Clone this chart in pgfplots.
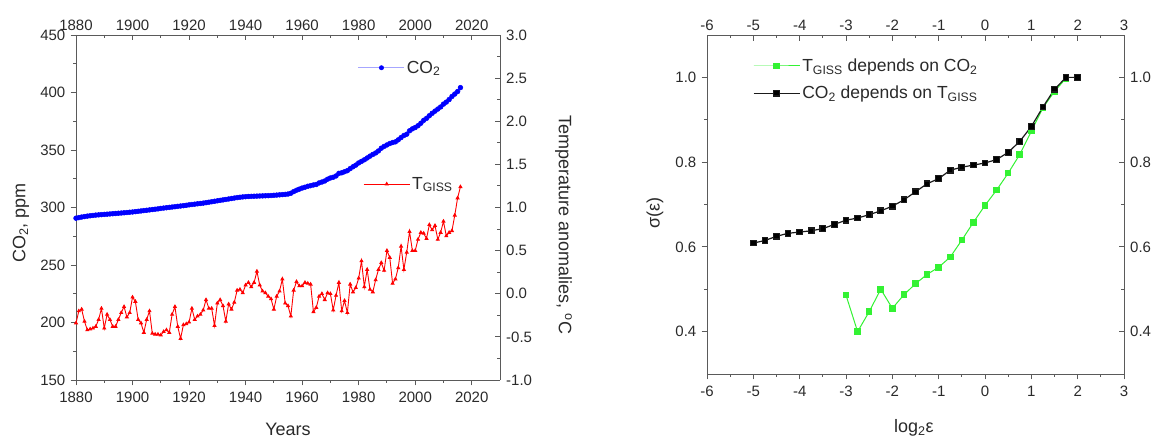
\documentclass[border=0pt]{standalone}
\usepackage{fontspec}
\setmainfont{Liberation Sans}
\usepackage{pgfplots}
\usepackage{pgfplotstable}
\pgfplotsset{compat=1.18}
\definecolor{fr}{HTML}{5A5A5A}
\definecolor{tx}{HTML}{2A2A2A}
\definecolor{cgreen}{HTML}{33F233}
\definecolor{cblack}{HTML}{1A1A1A}
\newcommand{\fTick}{\fontsize{15}{17}\selectfont}
\newcommand{\fLab}{\fontsize{18}{20}\selectfont}
\newcommand{\fLeg}{\fontsize{17.5}{19}\selectfont}

% year, CO2 (ppm), T_GISS anomaly (deg C)
\pgfplotstableread{
year co2 temp
1880 290.7 -0.34
1881 291.2 -0.20
1882 291.7 -0.18
1883 292.1 -0.32
1884 292.5 -0.42
1885 292.8 -0.41
1886 293.1 -0.40
1887 293.4 -0.38
1888 293.6 -0.30
1889 293.8 -0.17
1890 294.0 -0.40
1891 294.2 -0.24
1892 294.4 -0.30
1893 294.6 -0.38
1894 294.8 -0.38
1895 295.0 -0.30
1896 295.2 -0.22
1897 295.4 -0.15
1898 295.6 -0.27
1899 295.9 -0.22
1900 296.1 -0.04
1901 296.4 -0.09
1902 296.7 -0.30
1903 297.0 -0.34
1904 297.3 -0.45
1905 297.6 -0.30
1906 297.9 -0.20
1907 298.2 -0.46
1908 298.5 -0.47
1909 298.8 -0.47
1910 299.2 -0.48
1911 299.5 -0.44
1912 299.8 -0.42
1913 300.1 -0.45
1914 300.4 -0.24
1915 300.7 -0.15
1916 301.0 -0.38
1917 301.3 -0.52
1918 301.6 -0.36
1919 301.9 -0.35
1920 302.3 -0.33
1921 302.6 -0.17
1922 302.9 -0.30
1923 303.2 -0.26
1924 303.5 -0.24
1925 303.8 -0.19
1926 304.2 -0.07
1927 304.6 -0.17
1928 305.0 -0.17
1929 305.4 -0.37
1930 305.8 -0.11
1931 306.2 -0.07
1932 306.6 -0.14
1933 307.0 -0.32
1934 307.4 -0.12
1935 307.8 -0.18
1936 308.2 -0.10
1937 308.6 0.04
1938 308.9 0.05
1939 309.2 0.01
1940 309.4 0.10
1941 309.6 0.13
1942 309.7 0.08
1943 309.8 0.13
1944 309.9 0.26
1945 310.0 0.10
1946 310.1 0.03
1947 310.2 0.01
1948 310.3 -0.03
1949 310.4 -0.06
1950 310.6 -0.18
1951 310.8 -0.03
1952 311.0 0.03
1953 311.2 0.17
1954 311.4 -0.11
1955 311.7 -0.14
1956 312.4 -0.26
1957 313.8 0.04
1958 315.0 0.14
1959 315.97 0.09
1960 316.91 0.09
1961 317.64 0.13
1962 318.45 0.12
1963 318.99 0.11
1964 319.62 -0.21
1965 320.04 -0.16
1966 321.38 -0.03
1967 322.16 0.00
1968 323.04 -0.07
1969 324.62 0.01
1970 325.68 0.00
1971 326.32 -0.19
1972 327.45 -0.02
1973 329.68 0.13
1974 330.18 -0.20
1975 331.11 -0.08
1976 332.04 -0.22
1977 333.83 0.11
1978 335.40 0.02
1979 336.84 0.07
1980 338.75 0.18
1981 340.11 0.38
1982 341.45 0.08
1983 343.05 0.28
1984 344.65 0.05
1985 346.12 0.02
1986 347.42 0.16
1987 349.19 0.28
1988 351.57 0.36
1989 353.12 0.27
1990 354.39 0.50
1991 355.61 0.42
1992 356.45 0.12
1993 357.10 0.17
1994 358.83 0.30
1995 360.82 0.55
1996 362.61 0.28
1997 363.73 0.48
1998 366.70 0.72
1999 368.38 0.50
2000 369.55 0.50
2001 371.14 0.63
2002 373.28 0.71
2003 375.80 0.70
2004 377.52 0.64
2005 379.80 0.80
2006 381.90 0.74
2007 383.79 0.79
2008 385.60 0.63
2009 387.43 0.71
2010 389.90 0.84
2011 391.65 0.67
2012 393.85 0.71
2013 396.52 0.73
2014 398.65 0.91
2015 400.83 1.11
2016 404.24 1.24
}\clim

% log2(eps), sigma: CO2 depends on T_GISS
\pgfplotstableread{
le sig
-5.00 0.609
-4.75 0.615
-4.50 0.625
-4.25 0.632
-4.00 0.635
-3.75 0.638
-3.50 0.643
-3.25 0.653
-3.00 0.663
-2.75 0.668
-2.50 0.676
-2.25 0.685
-2.00 0.696
-1.75 0.711
-1.50 0.730
-1.25 0.749
-1.00 0.761
-0.75 0.781
-0.50 0.788
-0.25 0.793
0.00 0.798
0.25 0.806
0.50 0.823
0.75 0.849
1.00 0.884
1.25 0.930
1.50 0.972
1.75 1.000
2.00 1.000
}\cotdep

% log2(eps), sigma: T_GISS depends on CO2
\pgfplotstableread{
le sig
-3.00 0.486
-2.75 0.400
-2.50 0.447
-2.25 0.500
-2.00 0.455
-1.75 0.487
-1.50 0.513
-1.25 0.535
-1.00 0.552
-0.75 0.576
-0.50 0.616
-0.25 0.658
0.00 0.698
0.25 0.734
0.50 0.774
0.75 0.818
1.00 0.873
1.25 0.928
1.50 0.967
1.75 0.998
}\tdep

\pgfplotsset{
  base/.style={scale only axis, anchor=south west,
    axis line style={draw=fr,line width=0.9pt},
    tick style={draw=fr,line width=0.9pt},
    major tick length=5.5pt, minor tick length=3pt,
    tick label style={font=\fTick,text=tx,inner sep=1pt},
    label style={font=\fLab,text=tx},
    /pgf/number format/assume math mode=true,
    /pgf/number format/1000 sep={},
    legend style={draw=none,fill=none,inner sep=0pt,font=\fLeg,text=tx,
                  legend cell align=left},
    legend image code/.code={\draw[mark repeat=2,mark phase=2,##1]
      plot coordinates {(0pt,0pt) (23pt,0pt) (46pt,0pt)};},
  },
  % Origin-like frame: outward ticks bottom/left, inward ticks top/right
  lowleft/.style={axis x line*=bottom, axis y line*=left, tick align=outside,
    xticklabel style={yshift=-5pt}, yticklabel style={xshift=-4pt}},
  upright/.style={axis x line*=top, axis y line*=right, tick align=inside,
    xticklabel style={yshift=3pt}, yticklabel style={xshift=5pt}},
  onedec/.style={/pgf/number format/.cd,fixed,fixed zerofill,precision=1},
}

\begin{document}
\begin{tikzpicture}
% ---- left: CO2 and temperature
\begin{axis}[base, lowleft, at={(76pt,58pt)}, width=424pt, height=345pt,
  xmin=1880, xmax=2030, ymin=150, ymax=450,
  xtick={1880,1900,...,2020}, minor x tick num=1,
  ytick={150,200,...,450}, minor y tick num=1,
  xlabel={Years}, ylabel={CO\textsubscript{2}, ppm},
  xlabel style={at={(axis description cs:0.5,-0.142)},anchor=center},
  ylabel style={at={(axis description cs:-0.13,0.455)},anchor=center},
  legend style={at={(axis description cs:0.665,0.905)},anchor=west}]
\addplot[blue, line width=0.5pt, mark=*, mark size=2.4pt,
  legend image code/.code={\draw[blue!35,line width=0.6pt] (0pt,0pt)--(46pt,0pt);
    \fill[blue] (23pt,0pt) circle (2.2pt);}]
  table[x=year,y=co2] {\clim};
\addlegendentry{CO\textsubscript{2}}
\end{axis}
\begin{axis}[base, upright, at={(76pt,58pt)}, width=424pt, height=345pt,
  xmin=1880, xmax=2030, ymin=-1, ymax=3,
  xtick={1880,1900,...,2020}, minor x tick num=1,
  ytick={-1,-0.5,0,0.5,1,1.5,2,2.5,3}, minor y tick num=1,
  yticklabel style={onedec},
  ylabel={Temperature anomalies, \textsuperscript{o}C},
  ylabel style={at={(axis description cs:1.15,0.45)},anchor=center,rotate=180},
  legend style={at={(axis description cs:0.677,0.568)},anchor=west}]
\addplot[red, line width=0.9pt, mark=triangle*, mark size=1.6pt]
  table[x=year,y=temp] {\clim};
\addlegendentry{T\textsubscript{GISS}}
\end{axis}

% ---- right: sigma(eps)
\begin{axis}[base, lowleft, at={(707pt,64pt)}, width=417pt, height=339pt,
  xmin=-6, xmax=3, ymin=0.3, ymax=1.1,
  xtick={-6,-5,-4,-3,-2,-1,0,1,2,3}, minor x tick num=1,
  ytick={0.4,0.6,0.8,1.0}, minor ytick={0.5,0.7,0.9},
  yticklabel style={onedec},
  xlabel={log\textsubscript{2}ε}, ylabel={σ(ε)},
  xlabel style={at={(axis description cs:0.496,-0.158)},anchor=center},
  ylabel style={at={(axis description cs:-0.125,0.475)},anchor=center},
  legend style={at={(axis description cs:0.11,0.936)},anchor=north west,
                row sep=9pt}]
\addplot[cgreen, line width=1pt, mark=square*, mark size=2.8pt]
  table[x=le,y=sig] {\tdep};
\addlegendentry{T\textsubscript{GISS} depends on CO\textsubscript{2}}
\addplot[cblack, line width=1.2pt, mark=square*, mark size=2.8pt, mark options={fill=black}]
  table[x=le,y=sig] {\cotdep};
\addlegendentry{CO\textsubscript{2} depends on T\textsubscript{GISS}}
\end{axis}
\begin{axis}[base, upright, at={(707pt,64pt)}, width=417pt, height=339pt,
  xmin=-6, xmax=3, ymin=0.3, ymax=1.1,
  xtick={-6,-5,-4,-3,-2,-1,0,1,2,3}, minor x tick num=1,
  ytick={0.4,0.6,0.8,1.0}, minor ytick={0.5,0.7,0.9},
  yticklabel style={onedec}]
\end{axis}
\pgfresetboundingbox
\path[use as bounding box] (0pt,0pt) rectangle (1161pt,438pt);
\end{tikzpicture}
\end{document}
